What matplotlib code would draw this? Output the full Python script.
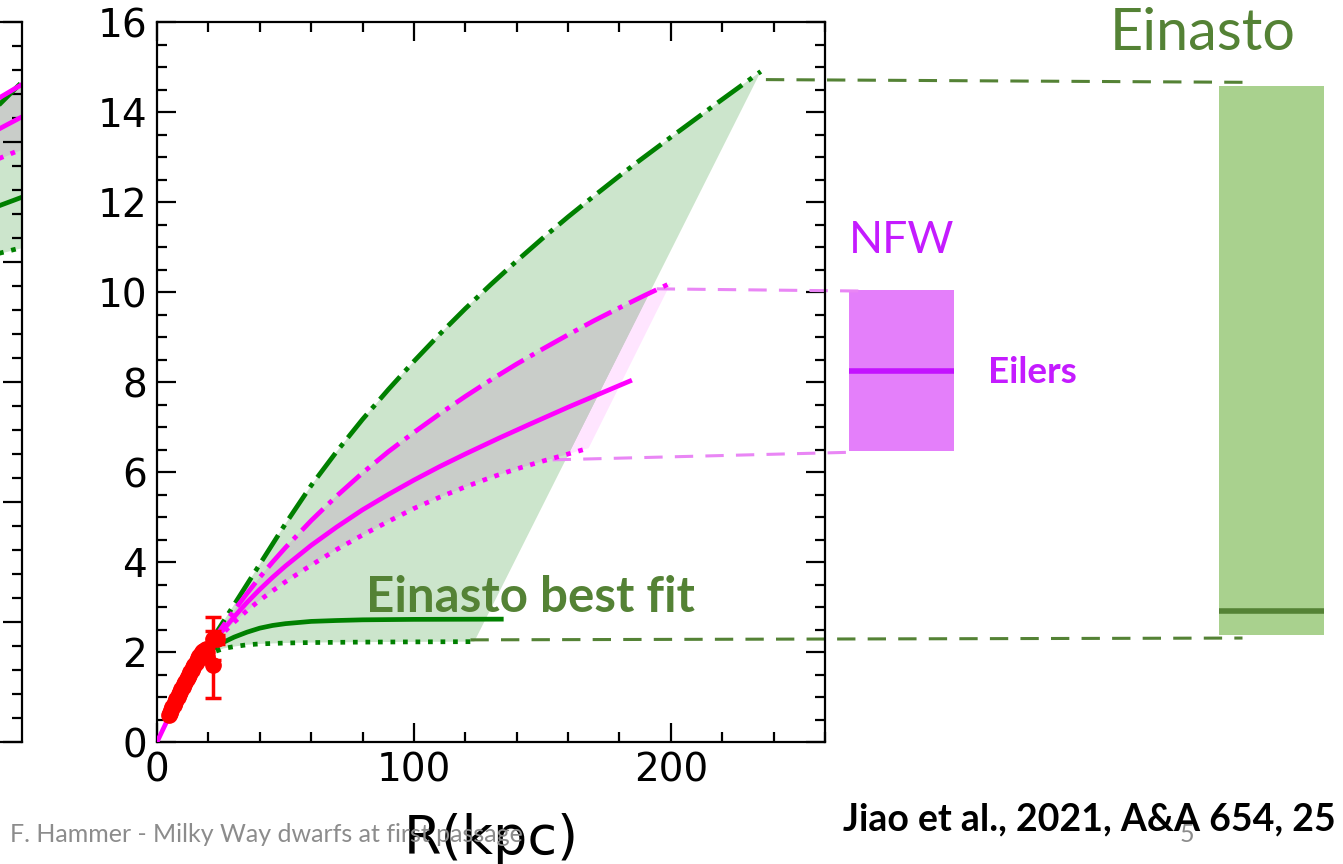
import numpy as np
import matplotlib.pyplot as plt
from matplotlib.patches import Polygon, Rectangle
from matplotlib.ticker import MultipleLocator

# enclosed mass profiles, R in kpc, M in 1e11 Msun
r_nfw_best = [0, 3, 6, 10, 15, 20, 25, 30, 35, 40, 45, 50, 60, 70, 80, 90, 100,
              110, 120, 133, 145, 160, 172, 184]
m_nfw_best = [0, 0.36, 0.72, 1.18, 1.68, 2.08, 2.44, 2.78, 3.10, 3.39, 3.66, 3.91,
              4.37, 4.78, 5.16, 5.50, 5.82, 6.12, 6.40, 6.75, 7.06, 7.44, 7.73, 8.02]
r_nfw_hi = [20, 25, 30, 35, 40, 45, 50, 60, 70, 80, 90, 100, 110, 120, 130, 140,
            150, 160, 170, 180, 190, 200]
m_nfw_hi = [2.10, 2.52, 2.92, 3.30, 3.66, 4.00, 4.32, 4.92, 5.47, 5.98, 6.45, 6.88,
            7.29, 7.68, 8.05, 8.40, 8.73, 9.05, 9.36, 9.65, 9.93, 10.2]
r_nfw_lo = [20, 25, 30, 35, 40, 45, 50, 60, 70, 80, 90, 100, 110, 120, 130, 140,
            150, 160, 168]
m_nfw_lo = [2.05, 2.38, 2.66, 2.92, 3.15, 3.36, 3.56, 3.93, 4.28, 4.60, 4.90, 5.19,
            5.44, 5.67, 5.88, 6.07, 6.24, 6.40, 6.53]

r_ein_hi = [20, 25, 30, 35, 40, 45, 50, 60, 70, 80, 90, 100, 110, 120, 130, 140,
            150, 160, 170, 180, 188, 200, 210, 220, 235]
m_ein_hi = [2.15, 2.60, 3.05, 3.50, 3.95, 4.40, 4.85, 5.70, 6.46, 7.17, 7.83, 8.46,
            9.06, 9.63, 10.17, 10.69, 11.19, 11.67, 12.13, 12.58, 12.93, 13.44,
            13.86, 14.28, 14.9]
r_ein_best = [20, 23, 26, 30, 35, 40, 45, 50, 60, 70, 80, 100, 134]
m_ein_best = [2.00, 2.12, 2.22, 2.33, 2.44, 2.53, 2.59, 2.63, 2.68, 2.70, 2.715,
              2.725, 2.73]
r_ein_lo = [23, 26, 30, 35, 40, 50, 60, 80, 100, 123.5]
m_ein_lo = [2.02, 2.08, 2.12, 2.16, 2.18, 2.20, 2.21, 2.22, 2.225, 2.23]

# Eilers et al. rotation-curve masses
r_obs = [4.5, 5.0, 5.5, 6.0, 6.5, 7.0, 7.5, 8.0, 8.5, 9.0, 9.5, 10.0, 10.5, 11.0,
         11.5, 12.0, 12.5, 13.0, 13.5, 14.0, 14.5, 15.0, 15.5, 16.0, 16.5, 17.0,
         17.5, 18.0, 18.5, 19.0]
m_obs = [0.60, 0.65, 0.71, 0.77, 0.83, 0.89, 0.95, 1.00, 1.06, 1.11, 1.17, 1.22,
         1.28, 1.33, 1.39, 1.44, 1.50, 1.55, 1.60, 1.66, 1.71, 1.76, 1.81, 1.86,
         1.91, 1.95, 2.00, 2.02, 2.05, 2.07]
r_outer = [19.5, 21.8, 21.8, 23.5]
m_outer = [1.90, 2.30, 1.72, 2.28]
e_outer = [0.10, 0.48, 0.74, 0.10]

# total mass ranges
nfw_range = (6.47, 10.04)
nfw_eilers = 8.24
ein_range = (2.38, 14.58)
ein_best = 2.91

# neighbouring panel (only its right edge shows)
r_left = [245, 260]
left_nfw_hi = [5.29, 5.48]
left_nfw_best = [5.04, 5.21]
left_nfw_lo = [4.81, 4.94]
left_ein_hi = [5.18, 5.50]
left_ein_best = [4.42, 4.54]
left_ein_lo = [4.04, 4.12]

W, H = 1343, 864
fig = plt.figure(figsize=(W / 100, H / 100), dpi=100)

GREEN = '#008000'
MAG = '#ff00ff'
GREY = '#c9cdc9'
OLIVE = '#548235'
NFW_C = '#c41bff'
SLIDE_FONT = ['Lato', 'DejaVu Sans']
LW = 3.4


def style_axes(ax):
    for s in ax.spines.values():
        s.set_linewidth(1.6)
    ax.tick_params(which='both', direction='in', top=True, right=True, width=1.6,
                   labelsize=28, pad=7)
    ax.tick_params(which='major', length=14)
    ax.tick_params(which='minor', length=7)


# left neighbour panel
axl = fig.add_axes([(22 - 668) / W, (H - 742) / H, 668 / W, 720 / H])
style_axes(axl)
axl.set_xlim(0, 260)
axl.set_ylim(0, 6)
axl.yaxis.set_major_locator(MultipleLocator(1))
axl.yaxis.set_minor_locator(MultipleLocator(0.2))
axl.set_xticks([])
axl.tick_params(labelleft=False, labelbottom=False)
axl.fill_between(r_left, left_ein_lo, left_ein_hi, color=GREEN, alpha=0.2, lw=0)
axl.fill_between(r_left, left_nfw_lo, left_nfw_hi, color=GREY, lw=0)
axl.plot(r_left, left_ein_hi, color=GREEN, lw=LW, ls='-.')
axl.plot(r_left, left_ein_best, color=GREEN, lw=LW)
axl.plot(r_left, left_ein_lo, color=GREEN, lw=LW, ls=':')
axl.plot(r_left, left_nfw_hi, color=MAG, lw=LW, ls='-.')
axl.plot(r_left, left_nfw_best, color=MAG, lw=LW)
axl.plot(r_left, left_nfw_lo, color=MAG, lw=LW, ls=':')

# main panel
ax = fig.add_axes([157 / W, (H - 742) / H, 668 / W, 720 / H])
style_axes(ax)
ax.set_xlim(0, 260)
ax.set_ylim(0, 16)
ax.xaxis.set_major_locator(MultipleLocator(100))
ax.xaxis.set_minor_locator(MultipleLocator(20))
ax.yaxis.set_major_locator(MultipleLocator(2))
ax.yaxis.set_minor_locator(MultipleLocator(0.5))
ax.set_xlabel('R(kpc)', fontsize=39, labelpad=17)

# uncertainty envelopes
ein_poly = np.column_stack([r_ein_hi + r_ein_lo[::-1], m_ein_hi + m_ein_lo[::-1]])
nfw_poly = np.column_stack([r_nfw_hi + r_nfw_lo[::-1], m_nfw_hi + m_nfw_lo[::-1]])
ein_patch = Polygon(ein_poly, closed=True, facecolor=GREEN, alpha=0.2, lw=0, zorder=1)
ax.add_patch(ein_patch)
ax.add_patch(Polygon(nfw_poly, closed=True, facecolor=MAG, alpha=0.1, lw=0, zorder=1))
overlap = Polygon(nfw_poly, closed=True, facecolor=GREY, lw=0, zorder=1.5)
ax.add_patch(overlap)
overlap.set_clip_path(ein_patch)

ax.plot(r_ein_hi, m_ein_hi, color=GREEN, lw=LW, ls='-.', zorder=3)
ax.plot(r_ein_best, m_ein_best, color=GREEN, lw=LW, zorder=3)
ax.plot(r_ein_lo, m_ein_lo, color=GREEN, lw=LW, ls=':', zorder=3)
ax.plot(r_nfw_hi, m_nfw_hi, color=MAG, lw=LW, ls='-.', zorder=3)
ax.plot(r_nfw_best, m_nfw_best, color=MAG, lw=LW, zorder=3)
ax.plot(r_nfw_lo, m_nfw_lo, color=MAG, lw=LW, ls=':', zorder=3)

ax.plot(r_obs, m_obs, 'o', color='red', ms=11, zorder=4)
ax.errorbar(r_outer, m_outer, yerr=e_outer, fmt='o', color='red', ms=11,
            elinewidth=2.5, capsize=6, capthick=2.5, zorder=4)

ax.text(81.5, 2.9, 'Einasto best fit', color=OLIVE, fontsize=35.5,
        fontweight='bold', family=SLIDE_FONT, zorder=5)

# range boxes to the right of the panel
nfw_x = (269.5, 310.3)
ein_x = (413.5, 454.3)
ax.add_patch(Rectangle((nfw_x[0], nfw_range[0]), nfw_x[1] - nfw_x[0],
                       nfw_range[1] - nfw_range[0], facecolor='#e47ffa',
                       lw=0, clip_on=False))
ax.plot(nfw_x, [nfw_eilers] * 2, color='#c313ff', lw=4, clip_on=False,
        solid_capstyle='butt')
ax.add_patch(Rectangle((ein_x[0], ein_range[0]), ein_x[1] - ein_x[0],
                       ein_range[1] - ein_range[0], facecolor='#a9d18e',
                       lw=0, clip_on=False))
ax.plot(ein_x, [ein_best] * 2, color=OLIVE, lw=4, clip_on=False,
        solid_capstyle='butt')

# connectors from curve ends to boxes
ax.plot([237, 422.5], [14.72, 14.66], color=OLIVE, lw=2.2, dashes=(6, 4),
        clip_on=False)
ax.plot([122, 422.5], [2.27, 2.31], color=OLIVE, lw=2.2, dashes=(6, 4),
        clip_on=False)
ax.plot([194.5, 276], [10.07, 10.02], color='#e986f5', lw=2.2, dashes=(6, 4),
        clip_on=False)
ax.plot([154, 271], [6.27, 6.44], color='#e986f5', lw=2.2, dashes=(6, 4),
        clip_on=False)

# slide annotations
fig.text(1110 / W, 1 - 50 / H, 'Einasto', color=OLIVE, fontsize=41.5,
         family=SLIDE_FONT, va='baseline')
fig.text(849 / W, 1 - 253 / H, 'NFW', color=NFW_C, fontsize=32,
         family=SLIDE_FONT, va='baseline')
fig.text(988 / W, 1 - 383 / H, 'Eilers', color=NFW_C, fontsize=26.5,
         fontweight='bold', family=SLIDE_FONT, va='baseline')
fig.text(10 / W, 1 - 842 / H, 'F. Hammer - Milky Way dwarfs at first passage',
         color='#8c8c8c', fontsize=18, family=SLIDE_FONT, va='baseline')
fig.text(1180 / W, 1 - 842 / H, '5', color='#8c8c8c', fontsize=18,
         family=SLIDE_FONT, va='baseline')
fig.text(843 / W, 1 - 830 / H, 'Jiao et al., 2021, A&A 654, 25', color='black',
         fontsize=27, fontweight='bold', family=SLIDE_FONT, va='baseline')

fig.savefig('out.png', dpi=100)
